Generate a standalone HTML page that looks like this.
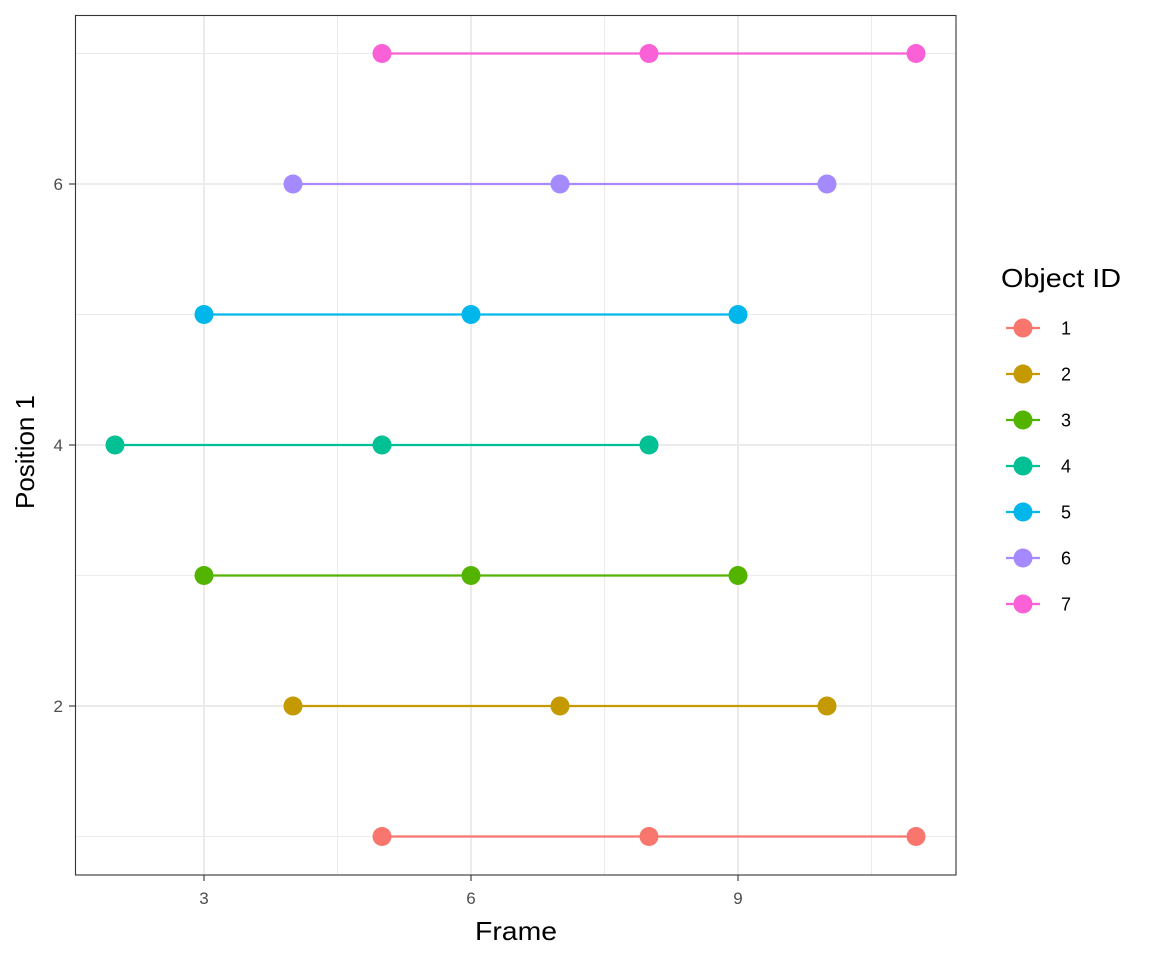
<!DOCTYPE html>
<html><head><meta charset="utf-8"><style>body{margin:0;background:#fff}svg{display:block}</style></head>
<body>
<svg width="1152" height="960" xmlns="http://www.w3.org/2000/svg" font-family="Liberation Sans, Arial, sans-serif">
<rect width="1152" height="960" fill="#fff"/>
<g stroke="#ebebeb" stroke-width="1">
<line x1="337.5" y1="15" x2="337.5" y2="875"/><line x1="604.5" y1="15" x2="604.5" y2="875"/><line x1="871.5" y1="15" x2="871.5" y2="875"/>
<line x1="75" y1="53.5" x2="956" y2="53.5"/><line x1="75" y1="314.5" x2="956" y2="314.5"/><line x1="75" y1="575.5" x2="956" y2="575.5"/><line x1="75" y1="836.5" x2="956" y2="836.5"/>
</g>
<g stroke="#ebebeb" stroke-width="2">
<line x1="204" y1="15" x2="204" y2="875"/><line x1="471" y1="15" x2="471" y2="875"/><line x1="738" y1="15" x2="738" y2="875"/>
<line x1="75" y1="184" x2="956" y2="184"/><line x1="75" y1="445" x2="956" y2="445"/><line x1="75" y1="706" x2="956" y2="706"/>
</g>
<g stroke-width="2.2">
<line x1="382" y1="836.5" x2="916" y2="836.5" stroke="#F8766D"/>
<line x1="293" y1="706" x2="827" y2="706" stroke="#C49A00"/>
<line x1="204" y1="575.5" x2="738" y2="575.5" stroke="#53B400"/>
<line x1="115" y1="445" x2="649" y2="445" stroke="#00C094"/>
<line x1="204" y1="314.5" x2="738" y2="314.5" stroke="#00B6EB"/>
<line x1="293" y1="184" x2="827" y2="184" stroke="#A58AFF"/>
<line x1="382" y1="53.5" x2="916" y2="53.5" stroke="#FB61D7"/>
</g>
<g fill="#F8766D"><circle cx="382" cy="836.5" r="9.5"/><circle cx="649" cy="836.5" r="9.5"/><circle cx="916" cy="836.5" r="9.5"/></g>
<g fill="#C49A00"><circle cx="293" cy="706" r="9.5"/><circle cx="560" cy="706" r="9.5"/><circle cx="827" cy="706" r="9.5"/></g>
<g fill="#53B400"><circle cx="204" cy="575.5" r="9.5"/><circle cx="471" cy="575.5" r="9.5"/><circle cx="738" cy="575.5" r="9.5"/></g>
<g fill="#00C094"><circle cx="115" cy="445" r="9.5"/><circle cx="382" cy="445" r="9.5"/><circle cx="649" cy="445" r="9.5"/></g>
<g fill="#00B6EB"><circle cx="204" cy="314.5" r="9.5"/><circle cx="471" cy="314.5" r="9.5"/><circle cx="738" cy="314.5" r="9.5"/></g>
<g fill="#A58AFF"><circle cx="293" cy="184" r="9.5"/><circle cx="560" cy="184" r="9.5"/><circle cx="827" cy="184" r="9.5"/></g>
<g fill="#FB61D7"><circle cx="382" cy="53.5" r="9.5"/><circle cx="649" cy="53.5" r="9.5"/><circle cx="916" cy="53.5" r="9.5"/></g>
<rect x="75.5" y="15.5" width="880.5" height="859.5" fill="none" stroke="#333" stroke-width="1.1"/>
<g stroke="#333" stroke-width="1.1">
<line x1="204" y1="875" x2="204" y2="881"/><line x1="471" y1="875" x2="471" y2="881"/><line x1="738" y1="875" x2="738" y2="881"/>
<line x1="69" y1="184" x2="75" y2="184"/><line x1="69" y1="445" x2="75" y2="445"/><line x1="69" y1="706" x2="75" y2="706"/>
</g>
<g fill="#4d4d4d" font-size="17">
<text x="204" y="904" text-anchor="middle">3</text><text x="471" y="904" text-anchor="middle">6</text><text x="738" y="904" text-anchor="middle">9</text>
<text x="63" y="190" text-anchor="end">6</text><text x="63" y="451" text-anchor="end">4</text><text x="63" y="712" text-anchor="end">2</text>
</g>
<text x="475" y="940" font-size="26" textLength="82" lengthAdjust="spacingAndGlyphs">Frame</text>
<text transform="translate(34,509) rotate(-90)" font-size="26" textLength="114" lengthAdjust="spacingAndGlyphs">Position 1</text>
<text x="1001" y="287" font-size="26" textLength="120" lengthAdjust="spacingAndGlyphs">Object ID</text>
<g font-size="18">
<g transform="translate(0,328)"><line x1="1006" x2="1040" stroke="#F8766D" stroke-width="2.2"/><circle cx="1023" r="9.5" fill="#F8766D"/><text x="1061" y="6.5">1</text></g>
<g transform="translate(0,374)"><line x1="1006" x2="1040" stroke="#C49A00" stroke-width="2.2"/><circle cx="1023" r="9.5" fill="#C49A00"/><text x="1061" y="6.5">2</text></g>
<g transform="translate(0,420)"><line x1="1006" x2="1040" stroke="#53B400" stroke-width="2.2"/><circle cx="1023" r="9.5" fill="#53B400"/><text x="1061" y="6.5">3</text></g>
<g transform="translate(0,466)"><line x1="1006" x2="1040" stroke="#00C094" stroke-width="2.2"/><circle cx="1023" r="9.5" fill="#00C094"/><text x="1061" y="6.5">4</text></g>
<g transform="translate(0,512)"><line x1="1006" x2="1040" stroke="#00B6EB" stroke-width="2.2"/><circle cx="1023" r="9.5" fill="#00B6EB"/><text x="1061" y="6.5">5</text></g>
<g transform="translate(0,558)"><line x1="1006" x2="1040" stroke="#A58AFF" stroke-width="2.2"/><circle cx="1023" r="9.5" fill="#A58AFF"/><text x="1061" y="6.5">6</text></g>
<g transform="translate(0,604)"><line x1="1006" x2="1040" stroke="#FB61D7" stroke-width="2.2"/><circle cx="1023" r="9.5" fill="#FB61D7"/><text x="1061" y="6.5">7</text></g>
</g>
</svg>
</body></html>
